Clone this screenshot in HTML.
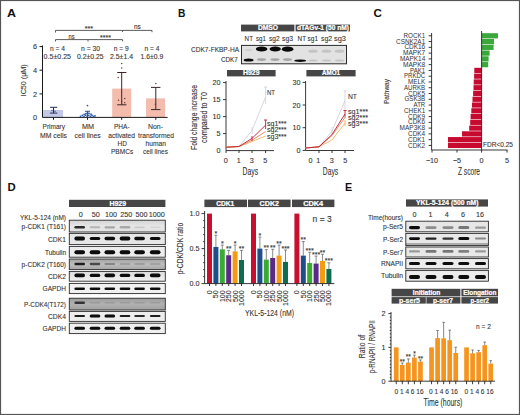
<!DOCTYPE html>
<html><head><meta charset="utf-8">
<style>
html,body{margin:0;padding:0;background:#fff;}
svg{display:block;font-family:"Liberation Sans",sans-serif;}
.t{fill:#333;stroke:#333;stroke-width:0.1px;}
.w{fill:#fff;font-weight:bold;stroke:#fff;stroke-width:0.22px;}
.L{fill:#111;font-weight:bold;}
.tl{fill:#333;}
</style></head><body>
<svg width="520" height="415" viewBox="0 0 520 415">
<rect x="0.5" y="0.5" width="519" height="414" fill="#fff" stroke="#555" stroke-width="1.2"/>
<g id="A">
<text class="L" x="7.00" y="17.10" font-size="11.8" textLength="9.00" lengthAdjust="spacingAndGlyphs">A</text>
<path d="M55.5,32.5V30.4H152V32.2 M122.5,30.4V32" stroke="#4a4a4a" stroke-width="0.9" fill="none"/>
<path d="M55.5,41.5V39.6H122.5V41.3 M88,39.6V41.5" stroke="#4a4a4a" stroke-width="0.9" fill="none"/>
<text class="t" x="84.70" y="30.70" font-size="7.4" textLength="8.40" lengthAdjust="spacingAndGlyphs">***</text>
<text class="t" x="134.00" y="29.00" font-size="6.5" textLength="6.80" lengthAdjust="spacingAndGlyphs">ns</text>
<text class="t" x="68.50" y="39.00" font-size="6.5" textLength="6.10" lengthAdjust="spacingAndGlyphs">ns</text>
<text class="t" x="100.00" y="40.40" font-size="7.4" textLength="11.10" lengthAdjust="spacingAndGlyphs">****</text>
<text class="t" x="50.00" y="50.60" font-size="7.2" textLength="15.00" lengthAdjust="spacingAndGlyphs">n = 4</text>
<text class="t" x="81.00" y="50.60" font-size="7.2" textLength="19.00" lengthAdjust="spacingAndGlyphs">n = 30</text>
<text class="t" x="113.80" y="50.60" font-size="7.2" textLength="15.00" lengthAdjust="spacingAndGlyphs">n = 9</text>
<text class="t" x="144.40" y="50.60" font-size="7.2" textLength="15.00" lengthAdjust="spacingAndGlyphs">n = 4</text>
<text class="t" x="43.60" y="58.60" font-size="7.2" textLength="27.40" lengthAdjust="spacingAndGlyphs">0.5±0.25</text>
<text class="t" x="77.00" y="58.60" font-size="7.2" textLength="26.60" lengthAdjust="spacingAndGlyphs">0.2±0.25</text>
<text class="t" x="110.00" y="58.60" font-size="7.2" textLength="23.00" lengthAdjust="spacingAndGlyphs">2.5±1.4</text>
<text class="t" x="140.60" y="58.60" font-size="7.2" textLength="22.60" lengthAdjust="spacingAndGlyphs">1.6±0.9</text>
<rect x="43.10" y="110.00" width="20.00" height="7.30" fill="#c3c8e6"/>
<rect x="112.20" y="88.60" width="19.00" height="28.90" fill="#f3bcad"/>
<rect x="146.10" y="98.40" width="19.00" height="19.10" fill="#f3bcad"/>
<path d="M42.5,45.5V117.4H167.6 M39.5,46.6H42.5 M39.5,70.2H42.5 M39.5,93.9H42.5 M53.5,117.4V119.8 M87.5,117.4V119.8 M121.7,117.4V119.8 M155.8,117.4V119.8" stroke="#1a1a1a" stroke-width="1" fill="none"/>
<text class="t" x="37.00" y="49.20" font-size="7.3" text-anchor="end">6</text>
<text class="t" x="37.00" y="72.80" font-size="7.3" text-anchor="end">4</text>
<text class="t" x="37.00" y="96.50" font-size="7.3" text-anchor="end">2</text>
<text class="t" x="37.00" y="120.10" font-size="7.3" text-anchor="end">0</text>
<text class="t" transform="translate(26.40,80.30) rotate(-90)" font-size="8" text-anchor="middle" textLength="32.00" lengthAdjust="spacingAndGlyphs">IC50 (µM)</text>
<path d="M53.5,107.3V113.1 M50,107.3H57.3 M50,113.1H57.3" stroke="#25305a" stroke-width="1" fill="none"/>
<path d="M121.7,72.5V104.8 M117.2,72.5H126.4 M117.2,104.8H126.4" stroke="#3a2626" stroke-width="1" fill="none"/>
<path d="M155.8,87.4V109.6 M151,87.4H160.4 M151,109.6H160.4" stroke="#3a2626" stroke-width="1" fill="none"/>
<path d="M87.5,111.3V116 M85,111.3H90" stroke="#1f3f80" stroke-width="0.9" fill="none"/>
<g fill="#2d5aa8"><circle cx="80.5" cy="116.3" r="0.9"/><circle cx="82.3" cy="115.4" r="0.9"/><circle cx="84" cy="116.5" r="0.9"/><circle cx="85.6" cy="115.2" r="0.9"/><circle cx="87.2" cy="116.4" r="0.9"/><circle cx="88.8" cy="115.3" r="0.9"/><circle cx="90.4" cy="116.5" r="0.9"/><circle cx="92" cy="115.5" r="0.9"/><circle cx="93.6" cy="116.4" r="0.9"/><circle cx="95" cy="115.8" r="0.9"/><circle cx="86" cy="113.6" r="0.9"/><circle cx="89" cy="113.3" r="0.9"/><circle cx="87.5" cy="105.6" r="0.9"/><circle cx="84.2" cy="114.3" r="0.9"/><circle cx="91" cy="114.2" r="0.9"/><circle cx="87.5" cy="112.8" r="0.9"/></g>
<g fill="#6a3a3a"><circle cx="121.7" cy="63.5" r="0.75"/><circle cx="121.7" cy="68" r="0.75"/><circle cx="118.2" cy="77.4" r="0.75"/><circle cx="118.5" cy="100.3" r="0.75"/><circle cx="121.7" cy="101.3" r="0.75"/><circle cx="124.7" cy="98.4" r="0.75"/><circle cx="124.7" cy="102.8" r="0.75"/><circle cx="121.9" cy="104.3" r="0.75"/><circle cx="155.8" cy="83.4" r="0.75"/><circle cx="155.4" cy="104.3" r="0.75"/></g>
<g fill="#3a4a7a"><circle cx="52" cy="110.5" r="0.7"/><circle cx="55" cy="111.2" r="0.7"/></g>
<text class="t" x="42.60" y="129.40" font-size="7.4" textLength="22.40" lengthAdjust="spacingAndGlyphs">Primary</text>
<text class="t" x="40.00" y="137.65" font-size="7.4" textLength="27.00" lengthAdjust="spacingAndGlyphs">MM cells</text>
<text class="t" x="82.00" y="129.40" font-size="7.4" textLength="12.00" lengthAdjust="spacingAndGlyphs">MM</text>
<text class="t" x="74.60" y="137.65" font-size="7.4" textLength="26.00" lengthAdjust="spacingAndGlyphs">cell lines</text>
<text class="t" x="114.00" y="129.40" font-size="7.4" textLength="15.60" lengthAdjust="spacingAndGlyphs">PHA-</text>
<text class="t" x="108.30" y="137.65" font-size="7.4" textLength="26.70" lengthAdjust="spacingAndGlyphs">activated</text>
<text class="t" x="117.50" y="145.90" font-size="7.4" textLength="9.30" lengthAdjust="spacingAndGlyphs">HD</text>
<text class="t" x="111.00" y="154.15" font-size="7.4" textLength="22.20" lengthAdjust="spacingAndGlyphs">PBMCs</text>
<text class="t" x="148.00" y="129.40" font-size="7.4" textLength="15.00" lengthAdjust="spacingAndGlyphs">Non-</text>
<text class="t" x="138.10" y="137.65" font-size="7.4" textLength="35.90" lengthAdjust="spacingAndGlyphs">transformed</text>
<text class="t" x="145.50" y="145.90" font-size="7.4" textLength="20.40" lengthAdjust="spacingAndGlyphs">human</text>
<text class="t" x="143.00" y="154.15" font-size="7.4" textLength="25.00" lengthAdjust="spacingAndGlyphs">cell lines</text>
</g>
<g id="B">
<text class="L" x="178.00" y="17.10" font-size="11.8" textLength="7.40" lengthAdjust="spacingAndGlyphs">B</text>
<rect x="241.00" y="24.60" width="53.40" height="6.80" fill="#464646"/>
<text class="w" x="258.00" y="30.19" font-size="6.4" textLength="20.00" lengthAdjust="spacingAndGlyphs">DMSO</text>
<rect x="295.60" y="24.60" width="54.40" height="6.80" fill="#464646"/>
<text class="w" x="297.00" y="30.19" font-size="6.4" textLength="52.00" lengthAdjust="spacingAndGlyphs">dTAGv-1 (50 nM)</text>
<text class="t" x="244.60" y="41.10" font-size="7.2" textLength="8.40" lengthAdjust="spacingAndGlyphs">NT</text>
<text class="t" x="256.00" y="41.10" font-size="7.2" textLength="10.00" lengthAdjust="spacingAndGlyphs">sg1</text>
<text class="t" x="269.00" y="41.10" font-size="7.2" textLength="10.60" lengthAdjust="spacingAndGlyphs">sg2</text>
<text class="t" x="282.00" y="41.10" font-size="7.2" textLength="11.00" lengthAdjust="spacingAndGlyphs">sg3</text>
<text class="t" x="297.60" y="41.10" font-size="7.2" textLength="8.40" lengthAdjust="spacingAndGlyphs">NT</text>
<text class="t" x="307.60" y="41.10" font-size="7.2" textLength="10.40" lengthAdjust="spacingAndGlyphs">sg1</text>
<text class="t" x="321.00" y="41.10" font-size="7.2" textLength="11.00" lengthAdjust="spacingAndGlyphs">sg2</text>
<text class="t" x="334.00" y="41.10" font-size="7.2" textLength="12.00" lengthAdjust="spacingAndGlyphs">sg3</text>
<text class="t" x="191.00" y="51.80" font-size="7.2" textLength="48.00" lengthAdjust="spacingAndGlyphs">CDK7-FKBP-HA</text>
<text class="t" x="221.00" y="62.30" font-size="7.2" textLength="16.80" lengthAdjust="spacingAndGlyphs">CDK7</text>
<rect x="241.50" y="45.40" width="105.00" height="18.40" fill="#e2e2e2" stroke="#2a2a2a" stroke-width="1"/>
<g fill="#0a0a0a"><ellipse cx="261.6" cy="49.1" rx="5.8" ry="2.5"/><ellipse cx="275.2" cy="49.1" rx="5.6" ry="2.5"/><ellipse cx="287.6" cy="49.2" rx="5.8" ry="2.6"/><ellipse cx="248.6" cy="60" rx="5" ry="1.6"/><ellipse cx="300.2" cy="60.7" rx="6" ry="1.3"/></g>
<g fill="#a4a4a4"><ellipse cx="261.5" cy="59.6" rx="4.6" ry="1.4"/><ellipse cx="275" cy="59.6" rx="4.6" ry="1.4"/><ellipse cx="287.5" cy="59.6" rx="4.6" ry="1.4"/></g>
<g fill="#d2d2d2"><ellipse cx="248.6" cy="50" rx="4" ry="1.2"/></g>
<g fill="#c4c4c4"><ellipse cx="313" cy="51.2" rx="4.8" ry="1.6"/><ellipse cx="313" cy="60.4" rx="4.6" ry="1"/><ellipse cx="326.5" cy="51.2" rx="4.8" ry="1.6"/><ellipse cx="326.5" cy="60.4" rx="4.6" ry="1"/><ellipse cx="339.5" cy="51.2" rx="4.8" ry="1.6"/><ellipse cx="339.5" cy="60.4" rx="4.6" ry="1"/></g>
<rect x="227.00" y="70.00" width="48.60" height="6.40" fill="#464646"/>
<text class="w" x="243.00" y="75.39" font-size="6.4" textLength="16.60" lengthAdjust="spacingAndGlyphs">H929</text>
<rect x="306.40" y="70.00" width="49.20" height="6.40" fill="#464646"/>
<text class="w" x="322.00" y="75.39" font-size="6.4" textLength="18.00" lengthAdjust="spacingAndGlyphs">AMO1</text>
<path d="M226,81V150.6H274 M223,82.6H226 M223,99.6H226 M223,116.6H226 M223,133.6H226 M226,150.6V153 M239,150.6V153 M252,150.6V153 M265.6,150.6V153" stroke="#222" stroke-width="0.9" fill="none"/>
<text class="t" x="220.50" y="85.10" font-size="7.2" text-anchor="end">20</text>
<text class="t" x="220.50" y="102.10" font-size="7.2" text-anchor="end">15</text>
<text class="t" x="220.50" y="119.10" font-size="7.2" text-anchor="end">10</text>
<text class="t" x="220.50" y="136.10" font-size="7.2" text-anchor="end">5</text>
<text class="t" x="220.50" y="153.10" font-size="7.2" text-anchor="end">0</text>
<text class="t" x="225.80" y="163.00" font-size="7.2" text-anchor="middle">0</text>
<text class="t" x="238.80" y="163.00" font-size="7.2" text-anchor="middle">1</text>
<text class="t" x="251.80" y="163.00" font-size="7.2" text-anchor="middle">3</text>
<text class="t" x="265.20" y="163.00" font-size="7.2" text-anchor="middle">5</text>
<text class="t" x="242.60" y="175.00" font-size="10" textLength="15.60" lengthAdjust="spacingAndGlyphs">Days</text>
<text class="t" transform="translate(196.80,117.50) rotate(-90)" font-size="8.5" text-anchor="middle" textLength="65.00" lengthAdjust="spacingAndGlyphs">Fold change increase</text>
<text class="t" transform="translate(206.80,117.50) rotate(-90)" font-size="8.5" text-anchor="middle" textLength="51.00" lengthAdjust="spacingAndGlyphs">compared to T0</text>
<path d="M226,147.2L239,146.5L252,130.6L265.6,97 M265.6,87V104 M264,87H267.2 M252,127V134" stroke="#d6d0de" stroke-width="0.9" fill="none"/>
<path d="M226,147.2L239,146.5L252,141.6L265.6,136" stroke="#f2b25c" stroke-width="0.9" fill="none"/>
<path d="M226,147.2L239,146.5L252,140.2L265.6,131.5" stroke="#e8804a" stroke-width="0.9" fill="none"/>
<path d="M226,147.2L239,146.5L252,138.4L265.6,125.2 M265.6,120V129 M264,120H267.2 M252,136V141" stroke="#b8203e" stroke-width="0.9" fill="none"/>
<text class="t" x="267.00" y="95.00" font-size="7.2" textLength="8.00" lengthAdjust="spacingAndGlyphs">NT</text>
<text class="t" x="267.00" y="125.60" font-size="7.2" textLength="19.60" lengthAdjust="spacingAndGlyphs">sg1***</text>
<text class="t" x="267.00" y="132.10" font-size="7.2" textLength="19.60" lengthAdjust="spacingAndGlyphs">sg2***</text>
<text class="t" x="267.00" y="138.60" font-size="7.2" textLength="19.60" lengthAdjust="spacingAndGlyphs">sg3***</text>
<path d="M305.6,81V150.5H354 M302.6,82.4H305.6 M302.6,105H305.6 M302.6,127.7H305.6 M302.6,150.4H305.6 M319,150.5V153 M332,150.5V153 M345,150.5V153" stroke="#222" stroke-width="0.9" fill="none"/>
<text class="t" x="300.50" y="84.90" font-size="7.2" text-anchor="end">30</text>
<text class="t" x="300.50" y="107.50" font-size="7.2" text-anchor="end">20</text>
<text class="t" x="300.50" y="130.20" font-size="7.2" text-anchor="end">10</text>
<text class="t" x="300.50" y="152.90" font-size="7.2" text-anchor="end">0</text>
<text class="t" x="310.60" y="163.00" font-size="7.2" text-anchor="middle">0</text>
<text class="t" x="318.20" y="163.00" font-size="7.2" text-anchor="middle">1</text>
<text class="t" x="331.80" y="163.00" font-size="7.2" text-anchor="middle">3</text>
<text class="t" x="345.30" y="163.00" font-size="7.2" text-anchor="middle">5</text>
<text class="t" x="322.80" y="175.00" font-size="10" textLength="15.40" lengthAdjust="spacingAndGlyphs">Days</text>
<path d="M305.6,148L319,146.8L332,131L345,100.5 M345,91V110 M343.4,91H346.6 M332,127V135" stroke="#d6d0de" stroke-width="0.9" fill="none"/>
<path d="M305.6,148L319,146.8L332,140L345,123 M345,120V126" stroke="#f2b25c" stroke-width="0.9" fill="none"/>
<path d="M305.6,148L319,146.8L332,135.5L345,117.5" stroke="#e8804a" stroke-width="0.9" fill="none"/>
<path d="M305.6,148L319,146.8L332,134.5L345,114 M345,110.5V117.5 M343.4,110.5H346.6" stroke="#b8203e" stroke-width="0.9" fill="none"/>
<text class="t" x="348.00" y="99.40" font-size="7.2" textLength="9.00" lengthAdjust="spacingAndGlyphs">NT</text>
<text class="t" x="348.00" y="114.00" font-size="7.2" textLength="20.00" lengthAdjust="spacingAndGlyphs">sg1***</text>
<text class="t" x="348.00" y="120.00" font-size="7.2" textLength="20.00" lengthAdjust="spacingAndGlyphs">sg2***</text>
<text class="t" x="348.00" y="126.00" font-size="7.2" textLength="20.00" lengthAdjust="spacingAndGlyphs">sg3***</text>
</g>
<g id="C">
<text class="L" x="373.40" y="17.10" font-size="11.8" textLength="8.40" lengthAdjust="spacingAndGlyphs">C</text>
<rect x="481.60" y="33.20" width="16.40" height="5.20" fill="#3aa83a"/>
<text class="tl" x="403.60" y="37.90" font-size="6.7" textLength="21.60" lengthAdjust="spacingAndGlyphs">ROCK1</text>
<rect x="481.60" y="38.97" width="12.40" height="5.20" fill="#3aa83a"/>
<text class="tl" x="396.00" y="43.67" font-size="6.7" textLength="29.20" lengthAdjust="spacingAndGlyphs">CSNK2A1</text>
<rect x="481.60" y="44.74" width="12.00" height="5.20" fill="#3aa83a"/>
<text class="tl" x="404.40" y="49.44" font-size="6.7" textLength="20.80" lengthAdjust="spacingAndGlyphs">CDK16</text>
<rect x="481.60" y="50.51" width="8.00" height="5.20" fill="#3aa83a"/>
<text class="tl" x="403.00" y="55.21" font-size="6.7" textLength="22.20" lengthAdjust="spacingAndGlyphs">MAPK7</text>
<rect x="481.60" y="56.28" width="7.00" height="5.20" fill="#3aa83a"/>
<text class="tl" x="400.00" y="60.98" font-size="6.7" textLength="25.20" lengthAdjust="spacingAndGlyphs">MAPK14</text>
<rect x="481.60" y="62.05" width="6.60" height="5.20" fill="#3aa83a"/>
<text class="tl" x="403.00" y="66.75" font-size="6.7" textLength="22.20" lengthAdjust="spacingAndGlyphs">MAPK8</text>
<rect x="474.30" y="67.82" width="7.30" height="5.20" fill="#c80a30"/>
<text class="tl" x="410.00" y="72.52" font-size="6.7" textLength="15.20" lengthAdjust="spacingAndGlyphs">PAK1</text>
<rect x="474.10" y="73.59" width="7.50" height="5.20" fill="#c80a30"/>
<text class="tl" x="404.00" y="78.29" font-size="6.7" textLength="21.20" lengthAdjust="spacingAndGlyphs">PRKDC</text>
<rect x="473.70" y="79.36" width="7.90" height="5.20" fill="#c80a30"/>
<text class="tl" x="408.00" y="84.06" font-size="6.7" textLength="17.20" lengthAdjust="spacingAndGlyphs">MELK</text>
<rect x="473.50" y="85.13" width="8.10" height="5.20" fill="#c80a30"/>
<text class="tl" x="404.00" y="89.83" font-size="6.7" textLength="21.20" lengthAdjust="spacingAndGlyphs">AURKB</text>
<rect x="473.10" y="90.90" width="8.50" height="5.20" fill="#c80a30"/>
<text class="tl" x="408.00" y="95.60" font-size="6.7" textLength="17.20" lengthAdjust="spacingAndGlyphs">CDK5</text>
<rect x="472.50" y="96.67" width="9.10" height="5.20" fill="#c80a30"/>
<text class="tl" x="404.40" y="101.37" font-size="6.7" textLength="20.80" lengthAdjust="spacingAndGlyphs">GSK3B</text>
<rect x="472.00" y="102.44" width="9.60" height="5.20" fill="#c80a30"/>
<text class="tl" x="413.60" y="107.14" font-size="6.7" textLength="11.60" lengthAdjust="spacingAndGlyphs">ATR</text>
<rect x="471.30" y="108.21" width="10.30" height="5.20" fill="#c80a30"/>
<text class="tl" x="404.00" y="112.91" font-size="6.7" textLength="21.20" lengthAdjust="spacingAndGlyphs">CHEK1</text>
<rect x="470.60" y="113.98" width="11.00" height="5.20" fill="#c80a30"/>
<text class="tl" x="408.00" y="118.68" font-size="6.7" textLength="17.20" lengthAdjust="spacingAndGlyphs">CDK9</text>
<rect x="470.20" y="119.75" width="11.40" height="5.20" fill="#c80a30"/>
<text class="tl" x="408.00" y="124.45" font-size="6.7" textLength="17.20" lengthAdjust="spacingAndGlyphs">CDK6</text>
<rect x="469.20" y="125.52" width="12.40" height="5.20" fill="#c80a30"/>
<text class="tl" x="399.60" y="130.22" font-size="6.7" textLength="25.60" lengthAdjust="spacingAndGlyphs">MAP3K8</text>
<rect x="462.00" y="131.29" width="19.60" height="5.20" fill="#c80a30"/>
<text class="tl" x="408.00" y="135.99" font-size="6.7" textLength="17.20" lengthAdjust="spacingAndGlyphs">CDK4</text>
<rect x="448.00" y="137.06" width="33.60" height="5.20" fill="#c80a30"/>
<text class="tl" x="408.00" y="141.76" font-size="6.7" textLength="17.20" lengthAdjust="spacingAndGlyphs">CDK1</text>
<rect x="448.00" y="142.83" width="33.60" height="5.20" fill="#c80a30"/>
<text class="tl" x="408.00" y="147.53" font-size="6.7" textLength="17.20" lengthAdjust="spacingAndGlyphs">CDK2</text>
<path d="M431.6,33V150H507.6 M432,150V152.6 M457,150V152.6 M481.6,150V152.6 M507,150V152.6 M428.6,35.80H431.6 M428.6,41.57H431.6 M428.6,47.34H431.6 M428.6,53.11H431.6 M428.6,58.88H431.6 M428.6,64.65H431.6 M428.6,70.42H431.6 M428.6,76.19H431.6 M428.6,81.96H431.6 M428.6,87.73H431.6 M428.6,93.50H431.6 M428.6,99.27H431.6 M428.6,105.04H431.6 M428.6,110.81H431.6 M428.6,116.58H431.6 M428.6,122.35H431.6 M428.6,128.12H431.6 M428.6,133.89H431.6 M428.6,139.66H431.6 M428.6,145.43H431.6 " stroke="#222" stroke-width="0.9" fill="none"/>
<path d="M481.6,31V150" stroke="#222" stroke-width="0.9" fill="none"/>
<text class="t" x="432.00" y="163.00" font-size="7.2" text-anchor="middle">−10</text>
<text class="t" x="457.00" y="163.00" font-size="7.2" text-anchor="middle">−5</text>
<text class="t" x="481.60" y="163.00" font-size="7.2" text-anchor="middle">0</text>
<text class="t" x="507.00" y="163.00" font-size="7.2" text-anchor="middle">5</text>
<text class="t" x="458.00" y="174.80" font-size="10" textLength="22.00" lengthAdjust="spacingAndGlyphs">Z score</text>
<text class="t" x="483.00" y="146.60" font-size="7.2" textLength="30.00" lengthAdjust="spacingAndGlyphs">FDR&lt;0.25</text>
<text class="t" transform="translate(389.40,91.50) rotate(-90)" font-size="8" text-anchor="middle" textLength="25.00" lengthAdjust="spacingAndGlyphs">Pathway</text>
</g>
<g id="D">
<text class="L" x="7.60" y="191.20" font-size="11.8" textLength="8.20" lengthAdjust="spacingAndGlyphs">D</text>
<rect x="69.00" y="199.80" width="96.40" height="7.20" fill="#464646"/>
<text class="w" x="109.50" y="205.59" font-size="6.4" textLength="16.50" lengthAdjust="spacingAndGlyphs">H929</text>
<text class="t" x="20.00" y="220.30" font-size="7.2" textLength="46.00" lengthAdjust="spacingAndGlyphs">YKL-5-124 (nM)</text>
<text class="t" x="80.70" y="216.80" font-size="7.2" text-anchor="middle">0</text>
<text class="t" x="95.80" y="216.80" font-size="7.2" text-anchor="middle">50</text>
<text class="t" x="111.10" y="216.80" font-size="7.2" text-anchor="middle">100</text>
<text class="t" x="126.30" y="216.80" font-size="7.2" text-anchor="middle">250</text>
<text class="t" x="141.50" y="216.80" font-size="7.2" text-anchor="middle">500</text>
<text class="t" x="156.70" y="216.80" font-size="7.2" text-anchor="middle">1000</text>
<defs><linearGradient id="gA" x1="0" y1="0" x2="0" y2="1"><stop offset="0" stop-color="#d4d4d4"/><stop offset="0.5" stop-color="#e6e6e6"/><stop offset="1" stop-color="#e0e0e0"/></linearGradient><linearGradient id="gB" x1="0" y1="0" x2="0" y2="1"><stop offset="0" stop-color="#a2a2a2"/><stop offset="0.5" stop-color="#bdbdbd"/><stop offset="1" stop-color="#a6a6a6"/></linearGradient><linearGradient id="gC" x1="0" y1="0" x2="0" y2="1"><stop offset="0" stop-color="#dcdcdc"/><stop offset="1" stop-color="#f2f2f2"/></linearGradient><linearGradient id="gD" x1="0" y1="0" x2="0" y2="1"><stop offset="0" stop-color="#9c9c9c"/><stop offset="0.5" stop-color="#b2b2b2"/><stop offset="1" stop-color="#a0a0a0"/></linearGradient><filter id="bl" x="-20%" y="-50%" width="140%" height="200%"><feGaussianBlur stdDeviation="0.35"/></filter></defs>
<rect x="69.30" y="220.20" width="96.00" height="11.80" fill="url(#gA)" stroke="#2a2a2a" stroke-width="0.9"/>
<g filter="url(#bl)"><rect x="74.4" y="226.00" width="10.6" height="2.6" rx="1.30" fill="#2a2a2a"/><rect x="89.7" y="226.30" width="10.6" height="2" rx="1.00" fill="#b4b4b4"/><rect x="104.5" y="226.20" width="10.6" height="2.2" rx="1.10" fill="#a6a6a6"/><rect x="119.7" y="226.00" width="10.6" height="2.6" rx="1.30" fill="#a8a8a8"/><rect x="134.3" y="226.40" width="10.6" height="1.8" rx="0.90" fill="#cacaca"/><rect x="149.9" y="226.50" width="10.6" height="1.6" rx="0.80" fill="#d6d6d6"/></g>
<text class="t" x="21.60" y="228.80" font-size="7.5" textLength="44.40" lengthAdjust="spacingAndGlyphs">p-CDK1 (T161)</text>
<rect x="69.30" y="233.40" width="96.00" height="11.20" fill="#e6e6e6" stroke="#2a2a2a" stroke-width="0.9"/>
<g filter="url(#bl)"><rect x="74.4" y="236.60" width="10.6" height="3.8" rx="1.90" fill="#080808"/><rect x="89.7" y="236.90" width="10.6" height="3.2" rx="1.60" fill="#0c0c0c"/><rect x="104.5" y="236.80" width="10.6" height="3.4" rx="1.70" fill="#0c0c0c"/><rect x="119.7" y="236.60" width="10.6" height="3.8" rx="1.90" fill="#080808"/><rect x="134.3" y="236.80" width="10.6" height="3.4" rx="1.70" fill="#0c0c0c"/><rect x="149.9" y="236.90" width="10.6" height="3.2" rx="1.60" fill="#0c0c0c"/></g>
<text class="t" x="48.00" y="241.70" font-size="7.5" textLength="18.00" lengthAdjust="spacingAndGlyphs">CDK1</text>
<rect x="69.30" y="246.40" width="96.00" height="10.80" fill="#ececec" stroke="#2a2a2a" stroke-width="0.9"/>
<g filter="url(#bl)"><rect x="74.4" y="250.20" width="10.6" height="4" rx="2.00" fill="#080808"/><rect x="89.7" y="250.20" width="10.6" height="4" rx="2.00" fill="#080808"/><rect x="104.5" y="250.20" width="10.6" height="4" rx="2.00" fill="#080808"/><rect x="119.7" y="250.20" width="10.6" height="4" rx="2.00" fill="#080808"/><rect x="134.3" y="250.20" width="10.6" height="4" rx="2.00" fill="#080808"/><rect x="149.9" y="250.20" width="10.6" height="4" rx="2.00" fill="#080808"/></g>
<text class="t" x="45.00" y="254.50" font-size="7.5" textLength="21.00" lengthAdjust="spacingAndGlyphs">Tubulin</text>
<rect x="69.30" y="259.00" width="96.00" height="10.60" fill="url(#gB)" stroke="#2a2a2a" stroke-width="0.9"/>
<g filter="url(#bl)"><rect x="74.4" y="262.70" width="10.6" height="2.6" rx="1.30" fill="#1e1e1e"/><rect x="89.7" y="262.85" width="10.6" height="2.3" rx="1.15" fill="#4a4a4a"/><rect x="104.5" y="263.05" width="10.6" height="1.9" rx="0.95" fill="#858585"/><rect x="119.7" y="263.15" width="10.6" height="1.7" rx="0.85" fill="#959595"/><rect x="134.3" y="263.15" width="10.6" height="1.7" rx="0.85" fill="#939393"/><rect x="149.9" y="263.15" width="10.6" height="1.7" rx="0.85" fill="#989898"/></g>
<text class="t" x="21.60" y="267.00" font-size="7.5" textLength="44.40" lengthAdjust="spacingAndGlyphs">p-CDK2 (T160)</text>
<rect x="69.30" y="271.40" width="96.00" height="9.80" fill="url(#gC)" stroke="#2a2a2a" stroke-width="0.9"/>
<g filter="url(#bl)"><rect x="74.4" y="273.60" width="10.6" height="3.6" rx="1.80" fill="#080808"/><rect x="89.7" y="273.80" width="10.6" height="3.2" rx="1.60" fill="#0c0c0c"/><rect x="104.5" y="273.60" width="10.6" height="3.6" rx="1.80" fill="#0c0c0c"/><rect x="119.7" y="273.75" width="10.6" height="3.3" rx="1.65" fill="#0c0c0c"/><rect x="134.3" y="273.75" width="10.6" height="3.3" rx="1.65" fill="#0c0c0c"/><rect x="149.9" y="273.60" width="10.6" height="3.6" rx="1.80" fill="#080808"/></g>
<text class="t" x="48.00" y="279.00" font-size="7.5" textLength="18.00" lengthAdjust="spacingAndGlyphs">CDK2</text>
<rect x="69.30" y="283.40" width="96.00" height="10.20" fill="#f0f0f0" stroke="#2a2a2a" stroke-width="0.9"/>
<g filter="url(#bl)"><rect x="74.4" y="287.40" width="10.6" height="2.6" rx="1.30" fill="#111"/><rect x="89.7" y="287.40" width="10.6" height="2.6" rx="1.30" fill="#111"/><rect x="104.5" y="287.40" width="10.6" height="2.6" rx="1.30" fill="#111"/><rect x="119.7" y="287.40" width="10.6" height="2.6" rx="1.30" fill="#111"/><rect x="134.3" y="287.40" width="10.6" height="2.6" rx="1.30" fill="#111"/><rect x="149.9" y="287.40" width="10.6" height="2.6" rx="1.30" fill="#111"/></g>
<text class="t" x="42.60" y="291.20" font-size="7.5" textLength="23.40" lengthAdjust="spacingAndGlyphs">GAPDH</text>
<rect x="69.30" y="298.20" width="96.00" height="11.80" fill="url(#gD)" stroke="#2a2a2a" stroke-width="0.9"/>
<g filter="url(#bl)"><rect x="74.4" y="301.50" width="10.6" height="2.6" rx="1.30" fill="#333"/><rect x="89.7" y="302.00" width="10.6" height="1.6" rx="0.80" fill="#999"/><rect x="104.5" y="302.00" width="10.6" height="1.6" rx="0.80" fill="#9a9a9a"/><rect x="119.7" y="302.00" width="10.6" height="1.6" rx="0.80" fill="#9c9c9c"/><rect x="134.3" y="302.00" width="10.6" height="1.6" rx="0.80" fill="#9a9a9a"/><rect x="149.9" y="302.00" width="10.6" height="1.6" rx="0.80" fill="#9c9c9c"/></g>
<text class="t" x="24.00" y="306.80" font-size="7.5" textLength="42.00" lengthAdjust="spacingAndGlyphs">P-CDK4(T172)</text>
<rect x="69.30" y="311.40" width="96.00" height="10.00" fill="#ededed" stroke="#2a2a2a" stroke-width="0.9"/>
<g filter="url(#bl)"><rect x="74.4" y="315.00" width="10.6" height="2" rx="1.00" fill="#1a1a1a"/><rect x="89.7" y="314.50" width="10.6" height="3" rx="1.50" fill="#080808"/><rect x="104.5" y="314.50" width="10.6" height="3" rx="1.50" fill="#080808"/><rect x="119.7" y="314.90" width="10.6" height="2.2" rx="1.10" fill="#1a1a1a"/><rect x="134.3" y="315.10" width="10.6" height="1.8" rx="0.90" fill="#2a2a2a"/><rect x="149.9" y="314.90" width="10.6" height="2.2" rx="1.10" fill="#1a1a1a"/></g>
<text class="t" x="48.00" y="319.10" font-size="7.5" textLength="18.00" lengthAdjust="spacingAndGlyphs">CDK4</text>
<rect x="69.30" y="323.20" width="96.00" height="10.40" fill="#efefef" stroke="#2a2a2a" stroke-width="0.9"/>
<g filter="url(#bl)"><rect x="74.4" y="326.80" width="10.6" height="3" rx="1.50" fill="#080808"/><rect x="89.7" y="326.80" width="10.6" height="3" rx="1.50" fill="#080808"/><rect x="104.5" y="326.80" width="10.6" height="3" rx="1.50" fill="#080808"/><rect x="119.7" y="326.80" width="10.6" height="3" rx="1.50" fill="#080808"/><rect x="134.3" y="326.80" width="10.6" height="3" rx="1.50" fill="#080808"/><rect x="149.9" y="326.80" width="10.6" height="3" rx="1.50" fill="#080808"/></g>
<text class="t" x="42.60" y="331.10" font-size="7.5" textLength="23.40" lengthAdjust="spacingAndGlyphs">GAPDH</text>
<rect x="204.40" y="199.60" width="42.60" height="7.50" fill="#464646"/>
<text class="w" x="216.30" y="205.54" font-size="6.4" textLength="17.90" lengthAdjust="spacingAndGlyphs">CDK1</text>
<rect x="248.00" y="199.60" width="42.60" height="7.50" fill="#464646"/>
<text class="w" x="259.60" y="205.54" font-size="6.4" textLength="19.40" lengthAdjust="spacingAndGlyphs">CDK2</text>
<rect x="292.00" y="199.60" width="42.40" height="7.50" fill="#464646"/>
<text class="w" x="303.20" y="205.54" font-size="6.4" textLength="20.00" lengthAdjust="spacingAndGlyphs">CDK4</text>
<rect x="207.00" y="213.60" width="5.00" height="70.00" fill="#c8102e"/>
<path d="M209.5,283.6V286" stroke="#222" stroke-width="0.9" fill="none"/>
<rect x="213.40" y="246.92" width="5.00" height="36.68" fill="#1f4e8c"/>
<path d="M215.9,246.92000000000002V235.3 M214.4,235.3H217.4" stroke="#5a5a5a" stroke-width="0.7" fill="none"/>
<text class="t" x="215.90" y="235.80" font-size="7" text-anchor="middle" fill="#222">*</text>
<path d="M215.9,283.6V286" stroke="#222" stroke-width="0.9" fill="none"/>
<rect x="219.80" y="249.30" width="5.00" height="34.30" fill="#3aaa35"/>
<path d="M222.3,249.3V245.10000000000002 M220.8,245.10000000000002H223.8" stroke="#5a5a5a" stroke-width="0.7" fill="none"/>
<text class="t" x="222.30" y="245.60" font-size="7" text-anchor="middle" fill="#222">*</text>
<path d="M222.3,283.6V286" stroke="#222" stroke-width="0.9" fill="none"/>
<rect x="226.20" y="255.25" width="5.00" height="28.35" fill="#5b2a86"/>
<path d="M228.7,255.25000000000003V250.35000000000002 M227.2,250.35000000000002H230.2" stroke="#5a5a5a" stroke-width="0.7" fill="none"/>
<text class="t" x="228.70" y="250.85" font-size="7" text-anchor="middle" fill="#222">**</text>
<path d="M228.7,283.6V286" stroke="#222" stroke-width="0.9" fill="none"/>
<rect x="232.60" y="251.40" width="5.00" height="32.20" fill="#f39c12"/>
<path d="M235.1,251.40000000000003V245.10000000000002 M233.6,245.10000000000002H236.6" stroke="#5a5a5a" stroke-width="0.7" fill="none"/>
<text class="t" x="235.10" y="245.60" font-size="7" text-anchor="middle" fill="#222">*</text>
<path d="M235.1,283.6V286" stroke="#222" stroke-width="0.9" fill="none"/>
<rect x="239.00" y="260.01" width="5.00" height="23.59" fill="#0d6e4f"/>
<path d="M241.5,260.01000000000005V250.35000000000002 M240.0,250.35000000000002H243.0" stroke="#5a5a5a" stroke-width="0.7" fill="none"/>
<text class="t" x="241.50" y="250.85" font-size="7" text-anchor="middle" fill="#222">**</text>
<path d="M241.5,283.6V286" stroke="#222" stroke-width="0.9" fill="none"/>
<rect x="251.00" y="213.60" width="5.00" height="70.00" fill="#c8102e"/>
<path d="M253.5,283.6V286" stroke="#222" stroke-width="0.9" fill="none"/>
<rect x="257.40" y="248.60" width="5.00" height="35.00" fill="#1f4e8c"/>
<path d="M259.9,248.60000000000002V237.05 M258.4,237.05H261.4" stroke="#5a5a5a" stroke-width="0.7" fill="none"/>
<text class="t" x="259.90" y="237.55" font-size="7" text-anchor="middle" fill="#222">*</text>
<path d="M259.9,283.6V286" stroke="#222" stroke-width="0.9" fill="none"/>
<rect x="263.80" y="259.59" width="5.00" height="24.01" fill="#3aaa35"/>
<path d="M266.3,259.59000000000003V249.65000000000003 M264.8,249.65000000000003H267.8" stroke="#5a5a5a" stroke-width="0.7" fill="none"/>
<text class="t" x="266.30" y="250.15" font-size="7" text-anchor="middle" fill="#222">**</text>
<path d="M266.3,283.6V286" stroke="#222" stroke-width="0.9" fill="none"/>
<rect x="270.20" y="257.98" width="5.00" height="25.62" fill="#5b2a86"/>
<path d="M272.7,257.98V249.3 M271.2,249.3H274.2" stroke="#5a5a5a" stroke-width="0.7" fill="none"/>
<text class="t" x="272.70" y="249.80" font-size="7" text-anchor="middle" fill="#222">**</text>
<path d="M272.7,283.6V286" stroke="#222" stroke-width="0.9" fill="none"/>
<rect x="276.60" y="255.60" width="5.00" height="28.00" fill="#f39c12"/>
<path d="M279.1,255.60000000000002V245.10000000000002 M277.6,245.10000000000002H280.6" stroke="#5a5a5a" stroke-width="0.7" fill="none"/>
<text class="t" x="279.10" y="245.60" font-size="7" text-anchor="middle" fill="#222">**</text>
<path d="M279.1,283.6V286" stroke="#222" stroke-width="0.9" fill="none"/>
<rect x="283.00" y="261.90" width="5.00" height="21.70" fill="#0d6e4f"/>
<path d="M285.5,261.90000000000003V250.00000000000003 M284.0,250.00000000000003H287.0" stroke="#5a5a5a" stroke-width="0.7" fill="none"/>
<text class="t" x="285.50" y="250.50" font-size="7" text-anchor="middle" fill="#222">***</text>
<path d="M285.5,283.6V286" stroke="#222" stroke-width="0.9" fill="none"/>
<rect x="294.40" y="213.60" width="5.00" height="70.00" fill="#c8102e"/>
<path d="M296.9,283.6V286" stroke="#222" stroke-width="0.9" fill="none"/>
<rect x="300.80" y="255.60" width="5.00" height="28.00" fill="#1f4e8c"/>
<path d="M303.29999999999995,255.60000000000002V241.60000000000002 M301.79999999999995,241.60000000000002H304.79999999999995" stroke="#5a5a5a" stroke-width="0.7" fill="none"/>
<text class="t" x="303.30" y="242.10" font-size="7" text-anchor="middle" fill="#222">**</text>
<path d="M303.29999999999995,283.6V286" stroke="#222" stroke-width="0.9" fill="none"/>
<rect x="307.20" y="263.02" width="5.00" height="20.58" fill="#3aaa35"/>
<path d="M309.7,263.02000000000004V252.31000000000003 M308.2,252.31000000000003H311.2" stroke="#5a5a5a" stroke-width="0.7" fill="none"/>
<text class="t" x="309.70" y="252.81" font-size="7" text-anchor="middle" fill="#222">***</text>
<path d="M309.7,283.6V286" stroke="#222" stroke-width="0.9" fill="none"/>
<rect x="313.60" y="263.58" width="5.00" height="20.02" fill="#5b2a86"/>
<path d="M316.09999999999997,263.58000000000004V256.02000000000004 M314.59999999999997,256.02000000000004H317.59999999999997" stroke="#5a5a5a" stroke-width="0.7" fill="none"/>
<text class="t" x="316.10" y="256.52" font-size="7" text-anchor="middle" fill="#222">***</text>
<path d="M316.09999999999997,283.6V286" stroke="#222" stroke-width="0.9" fill="none"/>
<rect x="320.00" y="260.99" width="5.00" height="22.61" fill="#f39c12"/>
<path d="M322.5,260.99V254.27000000000004 M321.0,254.27000000000004H324.0" stroke="#5a5a5a" stroke-width="0.7" fill="none"/>
<text class="t" x="322.50" y="254.77" font-size="7" text-anchor="middle" fill="#222">**</text>
<path d="M322.5,283.6V286" stroke="#222" stroke-width="0.9" fill="none"/>
<rect x="326.40" y="268.97" width="5.00" height="14.63" fill="#0d6e4f"/>
<path d="M328.9,268.97V262.81 M327.4,262.81H330.4" stroke="#5a5a5a" stroke-width="0.7" fill="none"/>
<text class="t" x="328.90" y="263.31" font-size="7" text-anchor="middle" fill="#222">***</text>
<path d="M328.9,283.6V286" stroke="#222" stroke-width="0.9" fill="none"/>
<path d="M204.6,211V283.6H334.4 M201.5,213.6H204.6 M201.5,248.6H204.6 M201.5,283.6H204.6 M203.2,276.6H204.6 M203.2,269.6H204.6 M203.2,262.6H204.6 M203.2,255.6H204.6 M203.2,241.6H204.6 M203.2,234.6H204.6 M203.2,227.6H204.6 M203.2,220.6H204.6 " stroke="#222" stroke-width="0.9" fill="none"/>
<text class="t" x="199.40" y="216.00" font-size="7.2" text-anchor="end">1.0</text>
<text class="t" x="199.40" y="251.00" font-size="7.2" text-anchor="end">0.5</text>
<text class="t" x="199.40" y="286.00" font-size="7.2" text-anchor="end">0.0</text>
<text class="t" transform="translate(183.20,248.50) rotate(-90)" font-size="8.6" text-anchor="middle" textLength="51.40" lengthAdjust="spacingAndGlyphs">p-CDK/CDK ratio</text>
<text class="t" transform="translate(211.90,290.40) rotate(-90)" font-size="7" text-anchor="end">0</text>
<text class="t" transform="translate(218.30,290.40) rotate(-90)" font-size="7" text-anchor="end">50</text>
<text class="t" transform="translate(224.70,290.40) rotate(-90)" font-size="7" text-anchor="end">100</text>
<text class="t" transform="translate(231.10,290.40) rotate(-90)" font-size="7" text-anchor="end">250</text>
<text class="t" transform="translate(237.50,290.40) rotate(-90)" font-size="7" text-anchor="end">500</text>
<text class="t" transform="translate(243.90,290.40) rotate(-90)" font-size="7" text-anchor="end">1000</text>
<text class="t" transform="translate(255.90,290.40) rotate(-90)" font-size="7" text-anchor="end">0</text>
<text class="t" transform="translate(262.30,290.40) rotate(-90)" font-size="7" text-anchor="end">50</text>
<text class="t" transform="translate(268.70,290.40) rotate(-90)" font-size="7" text-anchor="end">100</text>
<text class="t" transform="translate(275.10,290.40) rotate(-90)" font-size="7" text-anchor="end">250</text>
<text class="t" transform="translate(281.50,290.40) rotate(-90)" font-size="7" text-anchor="end">500</text>
<text class="t" transform="translate(287.90,290.40) rotate(-90)" font-size="7" text-anchor="end">1000</text>
<text class="t" transform="translate(299.30,290.40) rotate(-90)" font-size="7" text-anchor="end">0</text>
<text class="t" transform="translate(305.70,290.40) rotate(-90)" font-size="7" text-anchor="end">50</text>
<text class="t" transform="translate(312.10,290.40) rotate(-90)" font-size="7" text-anchor="end">100</text>
<text class="t" transform="translate(318.50,290.40) rotate(-90)" font-size="7" text-anchor="end">250</text>
<text class="t" transform="translate(324.90,290.40) rotate(-90)" font-size="7" text-anchor="end">500</text>
<text class="t" transform="translate(331.30,290.40) rotate(-90)" font-size="7" text-anchor="end">1000</text>
<text class="t" x="245.00" y="316.00" font-size="9.8" textLength="49.00" lengthAdjust="spacingAndGlyphs">YKL-5-124 (nM)</text>
<text class="t" x="312.60" y="222.20" font-size="8.3" textLength="19.00" lengthAdjust="spacingAndGlyphs">n = 3</text>
</g>
<g id="E">
<text class="L" x="345.00" y="191.20" font-size="11.8" textLength="7.20" lengthAdjust="spacingAndGlyphs">E</text>
<rect x="406.00" y="199.40" width="82.00" height="7.20" fill="#464646"/>
<text class="w" x="416.00" y="205.19" font-size="6.4" textLength="62.40" lengthAdjust="spacingAndGlyphs">YKL-5-124 (500 nM)</text>
<text class="t" x="368.00" y="220.00" font-size="7.2" textLength="35.00" lengthAdjust="spacingAndGlyphs">Time(hours)</text>
<text class="t" x="414.40" y="216.60" font-size="7.2" text-anchor="middle">0</text>
<text class="t" x="430.60" y="216.60" font-size="7.2" text-anchor="middle">1</text>
<text class="t" x="446.80" y="216.60" font-size="7.2" text-anchor="middle">4</text>
<text class="t" x="463.00" y="216.60" font-size="7.2" text-anchor="middle">6</text>
<text class="t" x="480.00" y="216.60" font-size="7.2" text-anchor="middle">16</text>
<defs><linearGradient id="gE" x1="0" y1="0" x2="0" y2="1"><stop offset="0" stop-color="#e8e8e8"/><stop offset="0.78" stop-color="#e8e8e8"/><stop offset="0.8" stop-color="#aaaaaa"/><stop offset="1" stop-color="#aaaaaa"/></linearGradient></defs>
<rect x="405.80" y="221.20" width="82.60" height="10.60" fill="#e6e6e6" stroke="#2a2a2a" stroke-width="0.9"/>
<g filter="url(#bl)"><rect x="409.0" y="225.90" width="11" height="3.4" rx="1.70" fill="#0a0a0a"/><rect x="425.5" y="226.30" width="11" height="2.6" rx="1.30" fill="#8c8c8c"/><rect x="442.5" y="226.20" width="11" height="2.8" rx="1.40" fill="#8a8a8a"/><rect x="458.3" y="226.10" width="11" height="3" rx="1.50" fill="#777"/><rect x="475.0" y="226.40" width="11" height="2.4" rx="1.20" fill="#999"/></g>
<text class="t" x="383.00" y="229.10" font-size="7.2" textLength="20.00" lengthAdjust="spacingAndGlyphs">p-Ser5</text>
<rect x="405.80" y="233.40" width="82.60" height="12.20" fill="url(#gE)" stroke="#2a2a2a" stroke-width="0.9"/>
<g filter="url(#bl)"><rect x="409.0" y="237.20" width="11" height="2.8" rx="1.40" fill="#111"/><rect x="425.5" y="237.40" width="11" height="2.4" rx="1.20" fill="#222"/><rect x="442.5" y="237.40" width="11" height="2.4" rx="1.20" fill="#333"/><rect x="458.3" y="237.10" width="11" height="3" rx="1.50" fill="#111"/><rect x="475.0" y="237.60" width="11" height="2" rx="1.00" fill="#888"/></g>
<text class="t" x="383.00" y="242.10" font-size="7.2" textLength="20.00" lengthAdjust="spacingAndGlyphs">P-Ser2</text>
<rect x="405.80" y="247.00" width="82.60" height="10.00" fill="#e8e8e8" stroke="#2a2a2a" stroke-width="0.9"/>
<g filter="url(#bl)"><rect x="409.0" y="250.20" width="11" height="2.4" rx="1.20" fill="#999"/><rect x="425.5" y="250.00" width="11" height="2.8" rx="1.40" fill="#777"/><rect x="442.5" y="250.10" width="11" height="2.6" rx="1.30" fill="#777"/><rect x="458.3" y="250.00" width="11" height="2.8" rx="1.40" fill="#808080"/><rect x="475.0" y="250.30" width="11" height="2.2" rx="1.10" fill="#999"/></g>
<text class="t" x="383.00" y="254.60" font-size="7.2" textLength="20.00" lengthAdjust="spacingAndGlyphs">P-Ser7</text>
<rect x="405.80" y="258.60" width="82.60" height="10.20" fill="#ececec" stroke="#2a2a2a" stroke-width="0.9"/>
<g filter="url(#bl)"><rect x="409.0" y="261.90" width="11" height="3.2" rx="1.60" fill="#0a0a0a"/><rect x="425.5" y="261.90" width="11" height="3.2" rx="1.60" fill="#0a0a0a"/><rect x="442.5" y="261.90" width="11" height="3.2" rx="1.60" fill="#0a0a0a"/><rect x="458.3" y="261.90" width="11" height="3.2" rx="1.60" fill="#0a0a0a"/><rect x="475.0" y="261.90" width="11" height="3.2" rx="1.60" fill="#0a0a0a"/></g>
<text class="t" x="381.00" y="266.30" font-size="7.2" textLength="22.00" lengthAdjust="spacingAndGlyphs">RNAPII</text>
<rect x="405.80" y="270.40" width="82.60" height="10.80" fill="#ececec" stroke="#2a2a2a" stroke-width="0.9"/>
<g filter="url(#bl)"><rect x="409.0" y="274.90" width="11" height="4.2" rx="2.10" fill="#080808"/><rect x="425.5" y="274.90" width="11" height="4.2" rx="2.10" fill="#080808"/><rect x="442.5" y="274.90" width="11" height="4.2" rx="2.10" fill="#080808"/><rect x="458.3" y="274.90" width="11" height="4.2" rx="2.10" fill="#080808"/><rect x="475.0" y="274.90" width="11" height="4.2" rx="2.10" fill="#080808"/></g>
<text class="t" x="381.00" y="278.40" font-size="7.2" textLength="22.00" lengthAdjust="spacingAndGlyphs">Tubulin</text>
<rect x="391.60" y="288.80" width="68.80" height="7.60" fill="#464646"/>
<text class="w" x="412.80" y="294.79" font-size="6.4" textLength="27.60" lengthAdjust="spacingAndGlyphs">Initiation</text>
<rect x="461.40" y="288.80" width="36.60" height="7.60" fill="#464646"/>
<text class="w" x="463.20" y="294.79" font-size="6.4" textLength="33.20" lengthAdjust="spacingAndGlyphs">Elongation</text>
<rect x="391.60" y="297.10" width="34.20" height="6.50" fill="#464646"/>
<text class="w" x="399.00" y="302.54" font-size="6.4" textLength="21.00" lengthAdjust="spacingAndGlyphs">p-ser5</text>
<rect x="426.40" y="297.10" width="34.00" height="6.50" fill="#464646"/>
<text class="w" x="433.00" y="302.54" font-size="6.4" textLength="20.00" lengthAdjust="spacingAndGlyphs">p-ser7</text>
<rect x="461.40" y="297.10" width="36.60" height="6.50" fill="#464646"/>
<text class="w" x="470.40" y="302.54" font-size="6.4" textLength="18.60" lengthAdjust="spacingAndGlyphs">p-ser2</text>
<rect x="393.90" y="347.40" width="4.70" height="33.80" fill="#f5951f"/>
<path d="M396.25,381.2V384.2" stroke="#222" stroke-width="0.9" fill="none"/>
<rect x="399.95" y="364.98" width="4.70" height="16.22" fill="#f5951f"/>
<path d="M402.30,364.98V362.95 M401.00,362.95H403.60" stroke="#555" stroke-width="0.7" fill="none"/>
<text class="t" x="402.30" y="363.55" font-size="6.5" text-anchor="middle" fill="#222">**</text>
<path d="M402.30,381.2V384.2" stroke="#222" stroke-width="0.9" fill="none"/>
<rect x="406.00" y="362.61" width="4.70" height="18.59" fill="#f5951f"/>
<path d="M408.35,362.61V358.89 M407.05,358.89H409.65" stroke="#555" stroke-width="0.7" fill="none"/>
<text class="t" x="408.35" y="359.49" font-size="6.5" text-anchor="middle" fill="#222">**</text>
<path d="M408.35,381.2V384.2" stroke="#222" stroke-width="0.9" fill="none"/>
<rect x="412.05" y="357.54" width="4.70" height="23.66" fill="#f5951f"/>
<path d="M414.40,357.54V355.17 M413.10,355.17H415.70" stroke="#555" stroke-width="0.7" fill="none"/>
<text class="t" x="414.40" y="355.77" font-size="6.5" text-anchor="middle" fill="#222">*</text>
<path d="M414.40,381.2V384.2" stroke="#222" stroke-width="0.9" fill="none"/>
<rect x="418.10" y="361.60" width="4.70" height="19.60" fill="#f5951f"/>
<path d="M420.45,361.60V359.91 M419.15,359.91H421.75" stroke="#555" stroke-width="0.7" fill="none"/>
<text class="t" x="420.45" y="360.51" font-size="6.5" text-anchor="middle" fill="#222">**</text>
<path d="M420.45,381.2V384.2" stroke="#222" stroke-width="0.9" fill="none"/>
<rect x="429.20" y="347.40" width="4.70" height="33.80" fill="#f5951f"/>
<path d="M431.55,381.2V384.2" stroke="#222" stroke-width="0.9" fill="none"/>
<rect x="435.25" y="338.11" width="4.70" height="43.09" fill="#f5951f"/>
<path d="M437.60,338.11V330.50 M436.30,330.50H438.90" stroke="#555" stroke-width="0.7" fill="none"/>
<path d="M437.60,381.2V384.2" stroke="#222" stroke-width="0.9" fill="none"/>
<rect x="441.30" y="338.31" width="4.70" height="42.89" fill="#f5951f"/>
<path d="M443.65,338.31V322.39 M442.35,322.39H444.95" stroke="#555" stroke-width="0.7" fill="none"/>
<path d="M443.65,381.2V384.2" stroke="#222" stroke-width="0.9" fill="none"/>
<rect x="447.35" y="340.20" width="4.70" height="41.00" fill="#f5951f"/>
<path d="M449.70,340.20V330.16 M448.40,330.16H451.00" stroke="#555" stroke-width="0.7" fill="none"/>
<path d="M449.70,381.2V384.2" stroke="#222" stroke-width="0.9" fill="none"/>
<rect x="453.40" y="353.01" width="4.70" height="28.19" fill="#f5951f"/>
<path d="M455.75,353.01V347.20 M454.45,347.20H457.05" stroke="#555" stroke-width="0.7" fill="none"/>
<path d="M455.75,381.2V384.2" stroke="#222" stroke-width="0.9" fill="none"/>
<rect x="464.20" y="347.40" width="4.70" height="33.80" fill="#f5951f"/>
<path d="M466.55,381.2V384.2" stroke="#222" stroke-width="0.9" fill="none"/>
<rect x="470.25" y="353.31" width="4.70" height="27.88" fill="#f5951f"/>
<path d="M472.60,353.31V350.00 M471.30,350.00H473.90" stroke="#555" stroke-width="0.7" fill="none"/>
<path d="M472.60,381.2V384.2" stroke="#222" stroke-width="0.9" fill="none"/>
<rect x="476.30" y="352.20" width="4.70" height="29.00" fill="#f5951f"/>
<path d="M478.65,352.20V350.41 M477.35,350.41H479.95" stroke="#555" stroke-width="0.7" fill="none"/>
<path d="M478.65,381.2V384.2" stroke="#222" stroke-width="0.9" fill="none"/>
<rect x="482.35" y="345.20" width="4.70" height="36.00" fill="#f5951f"/>
<path d="M484.70,345.20V342.09 M483.40,342.09H486.00" stroke="#555" stroke-width="0.7" fill="none"/>
<path d="M484.70,381.2V384.2" stroke="#222" stroke-width="0.9" fill="none"/>
<rect x="488.40" y="363.62" width="4.70" height="17.58" fill="#f5951f"/>
<path d="M490.75,363.62V360.68 M489.45,360.68H492.05" stroke="#555" stroke-width="0.7" fill="none"/>
<path d="M490.75,381.2V384.2" stroke="#222" stroke-width="0.9" fill="none"/>
<path d="M391,312V381.2H495 M388.4,313.6H391 M388.4,347.4H391 M388.4,381.2H391 M389.8,377.8H391 M389.8,374.4H391 M389.8,371.1H391 M389.8,367.7H391 M389.8,364.3H391 M389.8,360.9H391 M389.8,357.5H391 M389.8,354.2H391 M389.8,350.8H391 M389.8,344.0H391 M389.8,340.6H391 M389.8,337.3H391 M389.8,333.9H391 M389.8,330.5H391 M389.8,327.1H391 M389.8,323.7H391 M389.8,320.4H391 M389.8,317.0H391 " stroke="#222" stroke-width="0.9" fill="none"/>
<text class="t" x="385.60" y="316.10" font-size="7.2" text-anchor="end">2</text>
<text class="t" x="385.60" y="349.90" font-size="7.2" text-anchor="end">1</text>
<text class="t" x="385.60" y="383.70" font-size="7.2" text-anchor="end">0</text>
<text class="t" transform="translate(364.80,346.50) rotate(-90)" font-size="9.5" text-anchor="middle" textLength="23.50" lengthAdjust="spacingAndGlyphs">Ratio of</text>
<text class="t" transform="translate(375.20,346.80) rotate(-90)" font-size="9.2" text-anchor="middle" textLength="53.00" lengthAdjust="spacingAndGlyphs">p-RNAPII / RNAPII</text>
<text class="t" x="394.50" y="393.50" font-size="7" textLength="29.10" lengthAdjust="spacingAndGlyphs">0 1 4 6 16</text>
<text class="t" x="429.00" y="393.50" font-size="7" textLength="29.00" lengthAdjust="spacingAndGlyphs">0 1 4 6 16</text>
<text class="t" x="464.50" y="393.50" font-size="7" textLength="29.10" lengthAdjust="spacingAndGlyphs">0 1 4 6 16</text>
<text class="t" x="423.60" y="406.20" font-size="10" textLength="38.80" lengthAdjust="spacingAndGlyphs">Time (hours)</text>
<text class="t" x="476.00" y="329.10" font-size="7.8" textLength="14.80" lengthAdjust="spacingAndGlyphs">n = 2</text>
</g>
</svg>
</body></html>
